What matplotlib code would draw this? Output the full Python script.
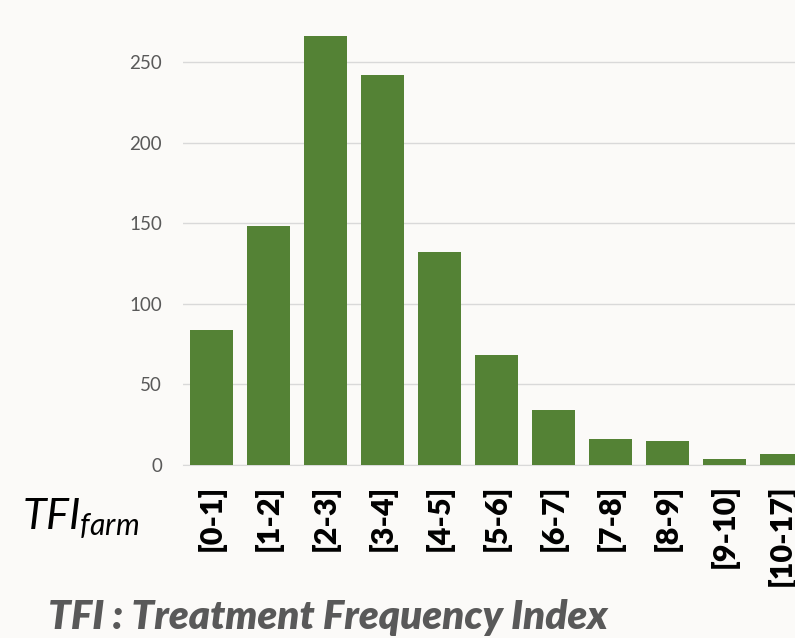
import matplotlib.pyplot as plt

plt.rcParams['font.family'] = ['Lato', 'DejaVu Sans']
plt.rcParams['mathtext.fontset'] = 'custom'
plt.rcParams['mathtext.it'] = 'Lato:italic'
plt.rcParams['mathtext.rm'] = 'Lato'

categories = ["[0-1]", "[1-2]", "[2-3]", "[3-4]", "[4-5]", "[5-6]",
              "[6-7]", "[7-8]", "[8-9]", "[9-10]", "[10-17]"]
counts = [84, 148, 266, 242, 132, 68, 34, 16, 15, 4, 7]
yticks = [0, 50, 100, 150, 200, 250]

bg = "#fbfaf8"
fig = plt.figure(figsize=(7.95, 6.38), dpi=100, facecolor=bg)
# plot area runs off the right edge like the original screenshot
ax = fig.add_axes([0.230, 0.2712, 0.789, 0.7075], facecolor=bg)

x = range(len(categories))
ax.bar(x, counts, width=0.76, color="#548235", zorder=3)

ax.set_xlim(-0.5, len(categories) - 0.5)
ax.set_ylim(0, 280)
ax.set_yticks(yticks)
ax.yaxis.grid(True, color="#d9d9d9", linewidth=1, zorder=0)
ax.tick_params(axis="y", length=0, pad=15, labelsize=13.5, labelcolor="#595959")
ax.set_xticks(list(x))
ax.set_xticklabels(categories, rotation=90, fontsize=22, fontweight="heavy", va="top")
ax.tick_params(axis="x", length=0, pad=14)
for s in ["top", "right", "left"]:
    ax.spines[s].set_visible(False)
ax.spines["bottom"].set_color("#d9d9d9")

fig.text(0.028, 0.17, r"$TFI_{farm}$", fontsize=31, color="black")
fig.text(0.06, 0.014, "TFI : Treatment Frequency Index", fontsize=29,
         fontweight="heavy", fontstyle="italic", color="#595959", va="baseline")

fig.savefig("out.png", dpi=100, facecolor=bg)
